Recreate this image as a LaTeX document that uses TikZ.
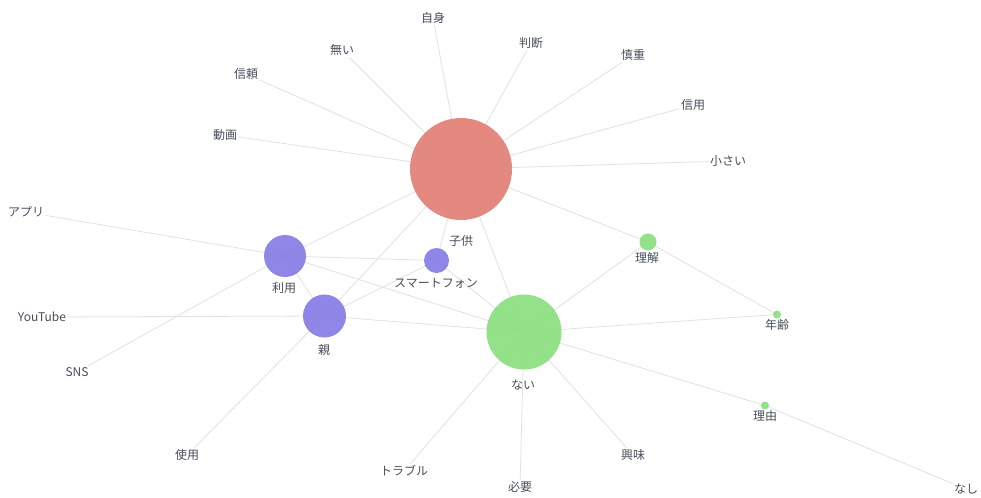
\documentclass[tikz,border=0pt]{standalone}
\usepackage{fontspec}
\setmainfont{Noto Sans CJK JP}
\usetikzlibrary{backgrounds}

\definecolor{redball}{RGB}{226,128,118}
\definecolor{blueball}{RGB}{134,124,230}
\definecolor{greenball}{RGB}{138,224,128}
\definecolor{edgegray}{RGB}{226,226,228}
\definecolor{wordgray}{RGB}{72,78,92}

\tikzset{
  word/.style={text=wordgray, font=\fontsize{9}{10}\selectfont, inner sep=1pt},
  ball/.style={circle, draw=none, fill opacity=0.92, minimum size=#1*0.75pt, inner sep=0pt},
  link/.style={draw=edgegray, line width=0.6pt}
}

\begin{document}
\begin{tikzpicture}[x=0.75pt, y=-0.75pt]

\useasboundingbox (0,0) rectangle (981,497);

% circles
\node[ball=102, fill=redball] (kodomo) at (461,169) {};
\node[ball=75, fill=greenball] (nai) at (524,332) {};
\node[ball=42, fill=blueball] (riyou) at (285,256) {};
\node[ball=43, fill=blueball] (oya) at (324.5,316) {};
\node[ball=25, fill=blueball] (sumaho) at (436.5,260.5) {};
\node[ball=17, fill=greenball] (rikai) at (648,242) {};
\node[ball=8, fill=greenball] (nenrei) at (777,314.5) {};
\node[ball=8, fill=greenball] (riyuu) at (765,405.5) {};

% labels under circles
\node[word] (kodomolbl) at (461,241) {子供};
\node[word] (nailbl) at (523,385) {ない};
\node[word] (riyoulbl) at (284,288) {利用};
\node[word] (oyalbl) at (324,350) {親};
\node[word] (sumaholbl) at (436,283) {スマートフォン};
\node[word] (rikailbl) at (647,258) {理解};
\node[word] (nenreilbl) at (777,325) {年齢};
\node[word] (riyuulbl) at (765,416) {理由};

% words
\node[word] (jishin) at (433,18) {自身};
\node[word] (handan) at (531,43) {判断};
\node[word] (shinchou) at (633,55) {慎重};
\node[word] (shinyou) at (693,105) {信用};
\node[word] (chiisai) at (728,161) {小さい};
\node[word] (nai2) at (342,50) {無い};
\node[word] (shinrai) at (246,74) {信頼};
\node[word] (douga) at (225,135) {動画};
\node[word] (apuri) at (26,212) {アプリ};
\node[word] (youtube) at (42,317) {YouTube};
\node[word] (sns) at (77,372) {SNS};
\node[word] (shiyou) at (187,455) {使用};
\node[word] (trouble) at (404,471) {トラブル};
\node[word] (hitsuyou) at (520,487) {必要};
\node[word] (kyoumi) at (633,455) {興味};
\node[word] (nashi) at (966,489) {なし};

\begin{scope}[on background layer]
\fill[white] (0,0) rectangle (981,497);

\draw[link] (kodomo.center) -- (jishin);
\draw[link] (kodomo.center) -- (handan);
\draw[link] (kodomo.center) -- (shinchou);
\draw[link] (kodomo.center) -- (shinyou);
\draw[link] (kodomo.center) -- (chiisai);
\draw[link] (kodomo.center) -- (nai2);
\draw[link] (kodomo.center) -- (shinrai);
\draw[link] (kodomo.center) -- (douga);
\draw[link] (kodomo.center) -- (riyou.center);
\draw[link] (kodomo.center) -- (oya.center);
\draw[link] (kodomo.center) -- (sumaho.center);
\draw[link] (kodomo.center) -- (nai.center);
\draw[link] (kodomo.center) -- (rikai.center);

\draw[link] (nai.center) -- (riyou.center);
\draw[link] (nai.center) -- (oya.center);
\draw[link] (nai.center) -- (sumaho.center);
\draw[link] (nai.center) -- (rikai.center);
\draw[link] (nai.center) -- (nenrei.center);
\draw[link] (nai.center) -- (riyuu.center);
\draw[link] (nai.center) -- (hitsuyou);
\draw[link] (nai.center) -- (trouble);
\draw[link] (nai.center) -- (kyoumi);

\draw[link] (riyou.center) -- (apuri);
\draw[link] (riyou.center) -- (sns);
\draw[link] (riyou.center) -- (sumaho.center);
\draw[link] (riyou.center) -- (oya.center);

\draw[link] (oya.center) -- (youtube);
\draw[link] (oya.center) -- (shiyou);
\draw[link] (oya.center) -- (sumaho.center);

\draw[link] (rikai.center) -- (nenrei.center);
\draw[link] (riyuu.center) -- (nashi);
\end{scope}

\end{tikzpicture}
\end{document}
